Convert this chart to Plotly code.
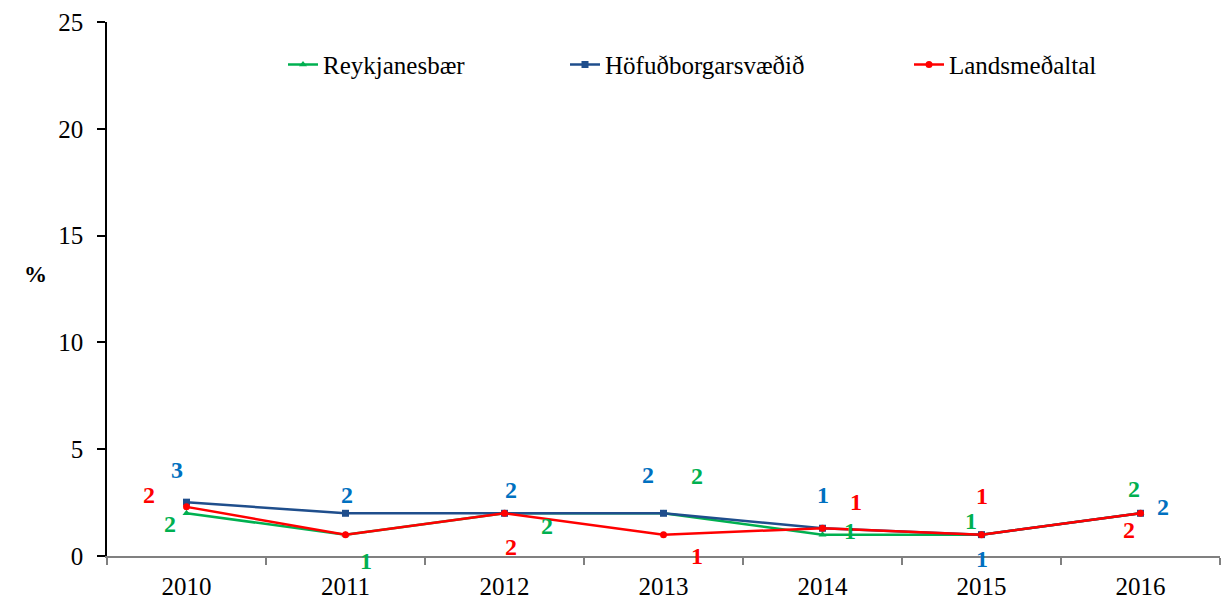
import plotly.graph_objects as go

years = ["2010", "2011", "2012", "2013", "2014", "2015", "2016"]
reykjanesbaer = [2.0, 1.0, 2.0, 2.0, 1.0, 1.0, 2.0]
hofudborgarsvaedid = [2.52, 2.0, 2.0, 2.0, 1.3, 1.0, 2.0]
landsmedaltal = [2.3, 1.0, 2.0, 1.0, 1.3, 1.0, 2.0]
series_names = ["Reykjanesbær", "Höfuðborgarsvæðið", "Landsmeðaltal"]
y_ticks = [0, 5, 10, 15, 20, 25]

FONT = "Liberation Serif"
line_colors = ["#00B050", "#1F4E8C", "#FF0000"]
label_colors = ["#00B050", "#0070C0", "#FF0000"]
symbols = ["triangle-up", "square", "circle"]
msize = [7, 7, 7]

# label pixel offsets (dx, dy with dy up positive); None = no label shown
label_offsets = [
    [(-17, -11), (20, -26), (42, -13), (33, 37), (27, 4), (-11, 14), (-7, 24)],
    [(-10, 32), (1, 18), (6, 23), (-16, 38), (0, 33), (0, -24), (22, 6)],
    [(-38, 12), None, (6, -34), (33, -21), (33, 26), (0, 39), (-12, -17)],
]

data = [reykjanesbaer, hofudborgarsvaedid, landsmedaltal]

fig = go.Figure()
legends = ["legend", "legend2", "legend3"]
for i, (name, vals) in enumerate(zip(series_names, data)):
    fig.add_trace(go.Scatter(
        x=years, y=vals, name=name, mode="lines+markers",
        line=dict(color=line_colors[i], width=2.5),
        marker=dict(symbol=symbols[i], size=msize[i], color=line_colors[i]),
        legend=legends[i], hoverinfo="skip",
    ))


def half_up(v):
    return str(int(v + 0.5))


annotations = []
for i, vals in enumerate(data):
    for j, v in enumerate(vals):
        off = label_offsets[i][j]
        if off is None:
            continue
        annotations.append(dict(
            x=j, y=v, xref="x", yref="y", text="<b>" + half_up(v) + "</b>",
            showarrow=False, xshift=off[0], yshift=off[1],
            font=dict(family=FONT, size=24, color=label_colors[i]),
        ))

annotations.append(dict(
    x=-0.076, y=0.527, xref="paper", yref="paper", text="<b>%</b>",
    showarrow=False, font=dict(family=FONT, size=23, color="black"),
))

PL, PR = 107, 1220
W = PR - PL


def px_x(p):
    return (p - PL) / W


leg_common = dict(orientation="h", yanchor="middle", y=0.92, xanchor="left",
                  bgcolor="rgba(0,0,0,0)", font=dict(family=FONT, size=25, color="black"),
                  itemwidth=30)

fig.update_layout(
    width=1221, height=601,
    margin=dict(l=PL, r=1221 - PR, t=22, b=43),
    paper_bgcolor="white", plot_bgcolor="white",
    font=dict(family=FONT, size=25, color="black"),
    showlegend=True,
    legend=dict(leg_common, x=px_x(283)),
    legend2=dict(leg_common, x=px_x(565)),
    legend3=dict(leg_common, x=px_x(909)),
    annotations=annotations,
    xaxis=dict(
        type="category", range=[-0.5, 6.5], showgrid=False,
        showline=True, linecolor="#808080", linewidth=2,
        ticks="outside", tickson="boundaries", ticklen=7, tickcolor="#808080", tickwidth=1.5,
        tickfont=dict(family=FONT, size=25, color="black"),
        ticklabelstandoff=7,
        zeroline=False,
    ),
    yaxis=dict(
        range=[0, 25], tickvals=y_ticks, showgrid=False, zeroline=False,
        showline=True, linecolor="black", linewidth=1.5,
        ticks="outside", ticklen=8, tickcolor="black", tickwidth=1.5,
        tickfont=dict(family=FONT, size=25, color="black"),
        ticklabelstandoff=9,
    ),
)

fig.write_html("out.html", config={"displayModeBar": False},
               post_script="document.body.style.margin='0';document.body.style.padding='0';")
